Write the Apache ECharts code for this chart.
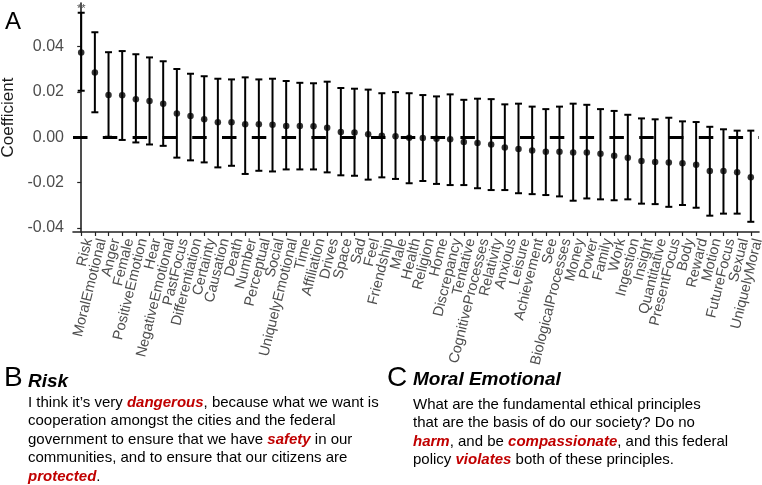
<!DOCTYPE html>
<html>
<head>
<meta charset="utf-8">
<script src="https://cdn.jsdelivr.net/npm/echarts@6/dist/echarts.min.js"></script>
<style>
  html, body { margin: 0; padding: 0; background: #fff; }
  #chart { width: 762px; height: 485px; }
</style>
</head>
<body>
<div id="chart"></div>
<script>
// categories, in plotted order
const categories = [
  "Risk", "MoralEmotional", "Anger", "Female", "PositiveEmotion", "Hear",
  "NegativeEmotional", "PastFocus", "Differentiation", "Certainty", "Causation",
  "Death", "Number", "Perceptual", "Social", "UniquelyEmotional", "Time",
  "Affiliation", "Drives", "Space", "Sad", "Feel", "Friendship", "Male", "Health",
  "Religion", "Home", "Discrepancy", "Tentative", "CognitiveProcesses",
  "Relativity", "Anxious", "Leisure", "Achievement", "See", "BiologicalProcesses",
  "Money", "Power", "Family", "Work", "Ingestion", "Insight", "Quantitative",
  "PresentFocus", "Body", "Reward", "Motion", "FutureFocus", "Sexual", "UniquelyMoral"
];

// point estimates
const coef = [
  0.0374, 0.0286, 0.0186, 0.0185, 0.0168, 0.0160, 0.0148, 0.0105, 0.0094, 0.0079,
  0.0066, 0.0066, 0.0057, 0.0057, 0.0055, 0.0049, 0.0049, 0.0048, 0.0042, 0.0023,
  0.0021, 0.0013, 0.0007, 0.0004, -0.0002, -0.0003, -0.0007, -0.0009, -0.0021, -0.0025,
  -0.0032, -0.0045, -0.0052, -0.0058, -0.0064, -0.0064, -0.0067, -0.0067, -0.0073, -0.0082,
  -0.0090, -0.0105, -0.0109, -0.0112, -0.0115, -0.0121, -0.0149, -0.0149, -0.0155, -0.0176
];

// upper end of the interval
const upper = [
  0.0549, 0.0463, 0.0375, 0.0380, 0.0366, 0.0352, 0.0335, 0.0301, 0.0280, 0.0269,
  0.0258, 0.0255, 0.0264, 0.0255, 0.0258, 0.0248, 0.0240, 0.0238, 0.0245, 0.0217,
  0.0214, 0.0210, 0.0194, 0.0199, 0.0194, 0.0186, 0.0180, 0.0189, 0.0165, 0.0170,
  0.0168, 0.0145, 0.0148, 0.0135, 0.0124, 0.0135, 0.0148, 0.0143, 0.0124, 0.0116,
  0.0099, 0.0083, 0.0079, 0.0086, 0.0070, 0.0067, 0.0046, 0.0035, 0.0029, 0.0029
];

// lower end of the interval
const lower = [
  0.0205, 0.0110, 0.0002, -0.0012, -0.0023, -0.0032, -0.0038, -0.0090, -0.0102, -0.0111,
  -0.0133, -0.0126, -0.0162, -0.0148, -0.0151, -0.0142, -0.0142, -0.0142, -0.0155, -0.0168,
  -0.0170, -0.0187, -0.0177, -0.0184, -0.0203, -0.0193, -0.0206, -0.0211, -0.0211, -0.0225,
  -0.0233, -0.0233, -0.0247, -0.0251, -0.0255, -0.0261, -0.0280, -0.0270, -0.0274, -0.0278,
  -0.0274, -0.0293, -0.0295, -0.0307, -0.0299, -0.0311, -0.0346, -0.0337, -0.0337, -0.0373
];

// significance marks (only the first category has one)
const sigMarks = ["**"];

const yTicks = [-0.04, -0.02, 0.00, 0.02, 0.04];

const FONT = "'Liberation Sans', Arial, Helvetica, sans-serif";
const X_MIN = -0.6;
const X_MAX = categories.length - 1 + 0.6;
const idx = categories.map((_, i) => i);
// blank labels at both ends so echarts' min/max overlap check doesn't drop real ones
const labelPos = [X_MIN].concat(idx, [X_MAX]);

const chart = echarts.init(document.getElementById("chart"), null, { renderer: "canvas" });

// error bars with caps
function renderBar(params, api) {
  const i = api.value(0);
  const top = api.coord([i, api.value(1)]);
  const bot = api.coord([i, api.value(2)]);
  const cap = 3.5;
  const style = { stroke: "#000", lineWidth: 2 };
  const children = [
    { type: "line", shape: { x1: top[0], y1: top[1], x2: bot[0], y2: bot[1] }, style },
    { type: "line", shape: { x1: top[0] - cap, y1: top[1], x2: top[0] + cap, y2: top[1] }, style },
    { type: "line", shape: { x1: bot[0] - cap, y1: bot[1], x2: bot[0] + cap, y2: bot[1] }, style }
  ];
  const mark = sigMarks[params.dataIndex];
  if (mark) {
    children.push({
      type: "text",
      style: {
        x: top[0], y: top[1] - 4, text: mark, fill: "#555",
        font: "11px " + FONT, align: "center", verticalAlign: "middle"
      }
    });
  }
  return { type: "group", children };
}

const option = {
  animation: false,
  grid: { left: 73, right: 3, top: 3, bottom: 253, containLabel: false, outerBoundsMode: "none" },
  xAxis: {
    type: "value",
    min: X_MIN,
    max: X_MAX,
    splitLine: { show: false },
    axisLine: { show: true, onZero: false, lineStyle: { color: "#222", width: 1.6 } },
    axisTick: { show: true, customValues: idx, length: 4, lineStyle: { color: "#222", width: 1.2 } },
    axisLabel: {
      customValues: labelPos,
      formatter: (v) => {
        const i = Math.round(v);
        return Math.abs(v - i) < 1e-6 && categories[i] ? categories[i] : "";
      },
      showMinLabel: false,
      showMaxLabel: false,
      hideOverlap: false,
      rotate: 76,
      align: "right",
      verticalAlign: "top",
      margin: 5,
      fontSize: 14.5,
      fontFamily: FONT,
      color: "#4d4d4d"
    }
  },
  yAxis: {
    type: "value",
    min: -0.0418,
    max: 0.0592,
    name: "Coefficient",
    nameLocation: "middle",
    nameGap: 44,
    nameTextStyle: { fontSize: 17, fontFamily: FONT, color: "#1a1a1a" },
    splitLine: { show: false },
    axisLine: { show: true, lineStyle: { color: "#222", width: 1.6 } },
    axisTick: { show: true, customValues: yTicks, length: 4, lineStyle: { color: "#222", width: 1.2 } },
    axisLabel: {
      customValues: yTicks,
      formatter: (v) => v.toFixed(2),
      showMinLabel: true,
      showMaxLabel: true,
      margin: 9,
      fontSize: 16,
      fontFamily: FONT,
      color: "#4d4d4d"
    }
  },
  series: [
    {
      type: "custom",
      renderItem: renderBar,
      data: categories.map((c, i) => [i, upper[i], lower[i]]),
      z: 2
    },
    {
      type: "scatter",
      data: categories.map((c, i) => [i, coef[i]]),
      symbolSize: 6.5,
      itemStyle: { color: "#000" },
      z: 4,
      markLine: {
        silent: true,
        symbol: "none",
        label: { show: false },
        lineStyle: { color: "#000", width: 3, type: [14.5, 15.3], dashOffset: 0 },
        data: [{ yAxis: 0 }]
      }
    }
  ],
  graphic: [
    { type: "text", left: 5, top: 10, style: { text: "A", font: "24px " + FONT, fill: "#000" } },
    { type: "text", left: 4, top: 364, style: { text: "B", font: "28px " + FONT, fill: "#000" } },
    { type: "text", left: 28, top: 372, style: { text: "Risk", font: "italic bold 19px " + FONT, fill: "#000" } },
    {
      type: "text", left: 28, top: 393.5,
      style: {
        text: [
          "I think it\u2019s very {r|dangerous}, because what we want is",
          "cooperation amongst the cities and the federal",
          "government to ensure that we have {r|safety} in our",
          "communities, and to ensure that our citizens are",
          "{r|protected}."
        ].join("\n"),
        font: "15px " + FONT, fill: "#000", lineHeight: 18.5,
        rich: { r: { fill: "#c00000", fontWeight: "bold", fontStyle: "italic", fontSize: 15, fontFamily: FONT, lineHeight: 18.5 } }
      }
    },
    { type: "text", left: 387, top: 364, style: { text: "C", font: "28px " + FONT, fill: "#000" } },
    { type: "text", left: 413, top: 370.5, style: { text: "Moral Emotional", font: "italic bold 19px " + FONT, fill: "#000" } },
    {
      type: "text", left: 413, top: 395.5,
      style: {
        text: [
          "What are the fundamental ethical principles",
          "that are the basis of do our society? Do no",
          "{r|harm}, and be {r|compassionate}, and this federal",
          "policy {r|violates} both of these principles."
        ].join("\n"),
        font: "15px " + FONT, fill: "#000", lineHeight: 18.5,
        rich: { r: { fill: "#c00000", fontWeight: "bold", fontStyle: "italic", fontSize: 15, fontFamily: FONT, lineHeight: 18.5 } }
      }
    }
  ]
};

chart.setOption(option);
</script>
</body>
</html>
